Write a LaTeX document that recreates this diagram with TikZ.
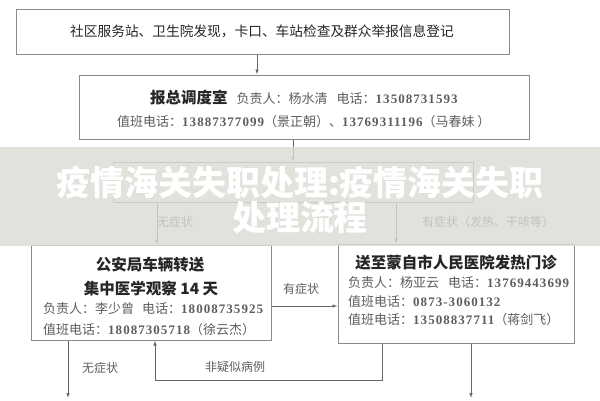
\documentclass[tikz,border=0pt]{standalone}
\usepackage{fontspec}
\setmainfont{Liberation Serif}
\newfontfamily\cjk{Noto Sans CJK SC}
\newfontfamily\ziffer[LetterSpace=8]{Liberation Serif}
\usetikzlibrary{positioning,calc,arrows.meta}
\definecolor{rahmen}{HTML}{8A8A8A}
\definecolor{schrift}{HTML}{5E5E5E}
\definecolor{band}{HTML}{D9DCD4}

\def\nummer#1{{\ziffer\bfseries #1}}

\begin{document}
\begin{tikzpicture}[x=1pt,y=-1pt,>={Latex[length=5pt,width=3.5pt]},
	kasten/.style={draw=rahmen,line width=1pt,fill=white,inner sep=0pt},
	kopf/.style={font=\cjk\bfseries\fontsize{15.5}{16}\selectfont,text=black!85,inner sep=0pt},
	zeile/.style={font=\cjk\fontsize{13}{13}\selectfont,text=schrift,anchor=west,inner sep=0pt},
	hinweis/.style={font=\cjk\fontsize{12}{12}\selectfont,text=schrift,inner sep=0pt},
	pfeil/.style={->,draw=black!60,line width=0.8pt}]

\useasboundingbox (0,0) rectangle (600,400);
\fill[white] (0,0) rectangle (600,400);

\coordinate (e1) at (68,398);
\coordinate (e2) at (471,398);
\coordinate (knick) at (155,380);

% Kaesten
\node[kasten,minimum width=493pt,minimum height=45pt] (meldung) at (262.5,31.5) {};
\node[kasten,minimum width=450pt,minimum height=64pt] (zentrale) at (304,107) {};
\node[kasten,minimum width=360pt,minimum height=40pt] (gremium) at (293,182) {};
\node[kasten,minimum width=240pt,minimum height=95pt] (transport) at (151,292.5) {};
\node[kasten,minimum width=236pt,minimum height=99pt] (klinik) at (456,293.5) {};

% Texte
\node[font=\cjk\fontsize{13.7}{14}\selectfont,text=black!85] (t1) at (262,31.5)
	{社区服务站、卫生院发现，卡口、车站检查及群众举报信息登记};

\node[zeile] (t2) at (150,98)
	{{\cjk\bfseries\fontsize{15.5}{16}\selectfont\color{black!85}报总调度室}\hspace{9pt}负责人：杨水清\hspace{9pt}电话：\nummer{13508731593}};
\node[zeile] (t3) at (117,122)
	{值班电话：\nummer{13887377099}（景正朝）、\nummer{13769311196}（马春妹 ）};

\node[kopf] (t4) at (150,265) {公安局车辆转送};
\node[kopf] (t5) at (151,289) {集中医学观察 14 天};
\node[zeile] (t6) at (43,309) {负责人：李少曾\hspace{8pt}电话：\nummer{18008735925}};
\node[zeile] (t7) at (43,330) {值班电话：\nummer{18087305718}（徐云杰）};

\node[kopf] (t8) at (456,263) {送至蒙自市人民医院发热门诊};
\node[zeile] (t9) at (348,283) {负责人：杨亚云\hspace{9pt}电话：\nummer{13769443699}};
\node[zeile] (t10) at (348,302) {值班电话：\nummer{0873-3060132}};
\node[zeile] (t11) at (348,320) {值班电话：\nummer{13508837711}（蒋剑飞）};

% Verbindungen
\draw[pfeil] ([xshift=-5.5pt]meldung.south) -- ([xshift=-5.5pt]meldung.south |- zentrale.north);
\draw[pfeil] (gremium.north |- zentrale.south) -- (gremium.north);
\draw[pfeil] ([xshift=6pt]transport.north |- gremium.south) -- ([xshift=6pt]transport.north);
\draw[pfeil] ([xshift=-60pt]klinik.north |- gremium.south) -- ([xshift=-60pt]klinik.north);
\draw[pfeil] ([yshift=-13.5pt]transport.east) -- ([yshift=-13.5pt]transport.east -| klinik.west);
\draw[pfeil] (transport.south -| e1) -- (e1);
\draw[pfeil] (klinik.south -| e2) -- (e2);
\draw[pfeil] ([xshift=-74pt]klinik.south) |- (knick) -- (knick |- transport.south);

\node[hinweis] (l1) at (175,222) {无症状};
\node[hinweis] (l2) at (488,222) {有症状（发热、干咳等）};
\node[hinweis] (l3) at (301,289) {有症状};
\node[hinweis] (l4) at (100,368) {无症状};
\node[hinweis] (l5) at (235,367) {非疑似病例};

% Band mit Titel
\fill[band,fill opacity=0.8] (0,147) rectangle (600,246);
\node[font=\cjk\bfseries\fontsize{34}{35}\selectfont,text=white,align=center] (ueberschrift)
	at (300,200.5) {疫情海关失职处理:疫情海关失职\\处理流程};

\end{tikzpicture}
\end{document}
